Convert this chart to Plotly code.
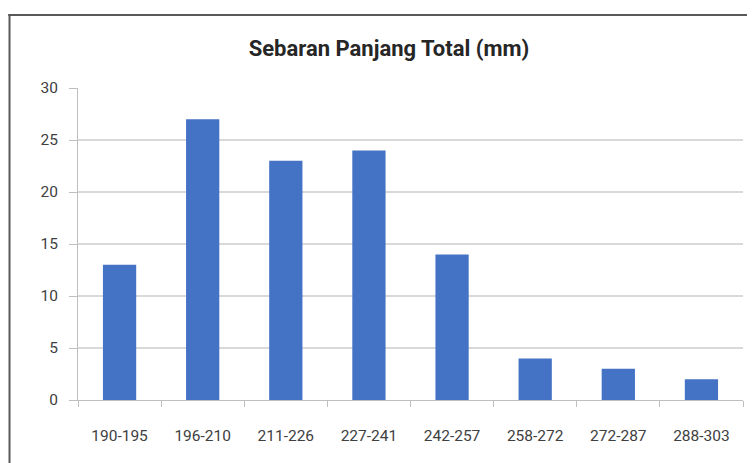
import plotly.graph_objects as go

# kelas panjang total (mm) dan frekuensi
kelas = ["190-195", "196-210", "211-226", "227-241", "242-257", "258-272", "272-287", "288-303"]
frekuensi = [13, 27, 23, 24, 14, 4, 3, 2]
y_ticks = [0, 5, 10, 15, 20, 25, 30]

font_fam = "Roboto, Noto Sans, sans-serif"

fig = go.Figure(
    go.Bar(x=kelas, y=frekuensi, marker=dict(color="#4472C4", line=dict(width=0)), width=0.4)
)

# halaman html punya margin body 8px, jadi ukuran dikurangi
fig.update_layout(
    width=747, height=455,
    margin=dict(l=70, r=12, t=80, b=63),
    plot_bgcolor="#FFFFFF", paper_bgcolor="#FFFFFF",
    showlegend=False,
    title=dict(text="<b>Sebaran Panjang Total (mm)</b>", x=0.51, xanchor="center",
               y=0.912, yanchor="middle",
               font=dict(family=font_fam, size=22, color="#262626")),
    font=dict(family=font_fam, size=15.5, color="#404040"),
)

fig.update_xaxes(
    type="category", showgrid=False, showline=True, linecolor="#BFBFBF", linewidth=1,
    ticks="outside", tickson="boundaries", ticklen=6, tickcolor="#BFBFBF",
    ticklabelstandoff=21, range=[-0.5, 7.5],
)
fig.update_yaxes(
    range=[0, 30], tickvals=y_ticks, showgrid=True, gridcolor="#D9D9D9", gridwidth=1.5,
    showline=True, linecolor="#BFBFBF", linewidth=1, ticks="outside", ticklen=8,
    tickcolor="#BFBFBF", zeroline=False, ticklabelstandoff=8,
)

# bingkai grafik (hanya atas dan kiri terlihat, gambar terpotong)
fig.add_shape(type="line", xref="paper", yref="paper", x0=-0.105, x1=1.1, y0=1.234, y1=1.234,
              line=dict(color="#595959", width=2))
fig.add_shape(type="line", xref="paper", yref="paper", x0=-0.103, x1=-0.103, y0=1.234, y1=-0.3,
              line=dict(color="#595959", width=2))

fig.write_html("out.html")
